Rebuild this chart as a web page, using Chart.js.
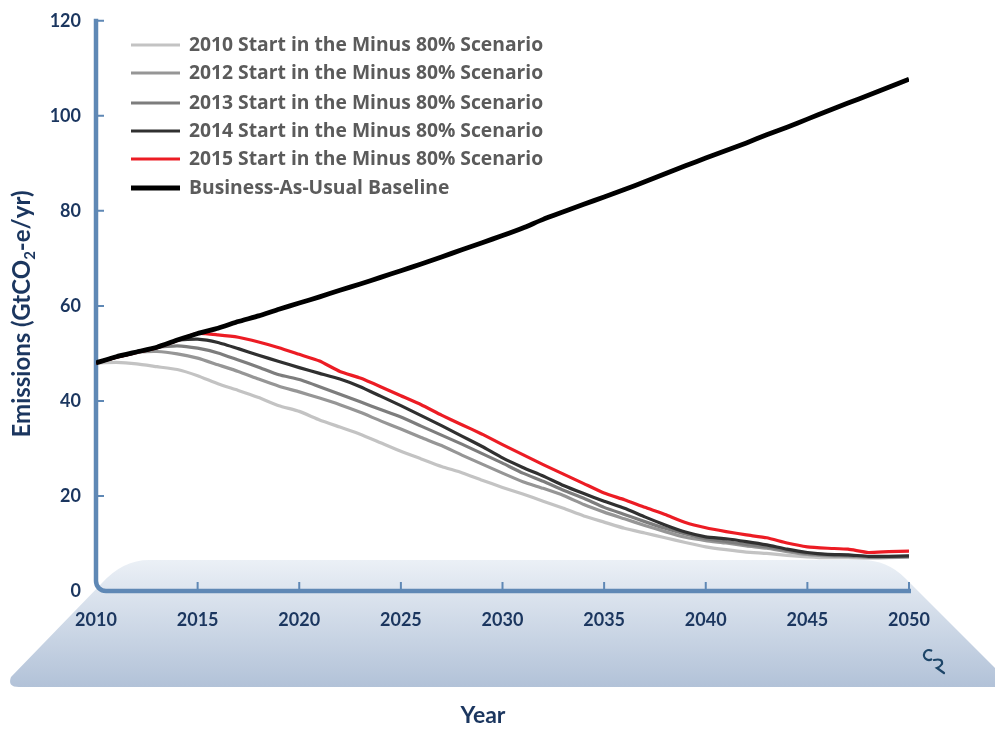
<!DOCTYPE html>
<html>
<head>
<meta charset="utf-8">
<title>Emissions scenarios</title>
<script src="https://cdn.jsdelivr.net/npm/chart.js@4.4.1/dist/chart.umd.min.js"></script>
<style>
  html, body { margin: 0; padding: 0; background: #ffffff; }
  canvas { display: block; }
</style>
</head>
<body>
<canvas id="emissionsChart" width="995" height="731"></canvas>
<script>
// Years on the x axis, one point per year
const years = [2010, 2011, 2012, 2013, 2014, 2015, 2016, 2017, 2018, 2019,
               2020, 2021, 2022, 2023, 2024, 2025, 2026, 2027, 2028, 2029,
               2030, 2031, 2032, 2033, 2034, 2035, 2036, 2037, 2038, 2039,
               2040, 2041, 2042, 2043, 2044, 2045, 2046, 2047, 2048, 2049, 2050];

// Emissions in GtCO2-e/yr
const start2010 = [48.0, 48.1, 47.8, 47.2, 46.6, 45.3, 43.6, 42.2, 40.7, 39.0,
                   37.8, 36.0, 34.5, 33.0, 31.2, 29.4, 27.8, 26.2, 24.9, 23.3,
                   21.8, 20.4, 18.9, 17.4, 15.8, 14.5, 13.2, 12.2, 11.2, 10.2,
                   9.3, 8.7, 8.2, 7.9, 7.5, 7.2, 7.0, 7.0, 6.9, 7.0, 7.1];
const start2012 = [48.0, 49.2, 50.3, 50.4, 49.9, 49.0, 47.6, 46.2, 44.6, 43.1,
                   41.9, 40.6, 39.2, 37.6, 35.8, 34.1, 32.3, 30.6, 28.6, 26.7,
                   24.8, 23.0, 21.6, 20.1, 18.2, 16.6, 15.2, 13.8, 12.5, 11.3,
                   10.6, 10.1, 9.5, 9.0, 8.3, 7.7, 7.4, 7.3, 7.1, 7.1, 7.2];
const start2013 = [48.0, 49.2, 50.2, 51.3, 51.6, 51.1, 50.1, 48.6, 47.1, 45.5,
                   44.5, 43.0, 41.4, 39.8, 38.2, 36.6, 34.7, 32.8, 30.9, 28.9,
                   26.9, 24.8, 23.1, 21.2, 19.5, 17.6, 16.1, 14.6, 13.2, 12.0,
                   11.0, 10.4, 9.8, 9.3, 8.6, 7.9, 7.6, 7.5, 7.2, 7.2, 7.3];
const start2014 = [48.0, 49.2, 50.2, 51.2, 52.8, 53.0, 52.3, 51.0, 49.6, 48.3,
                   47.0, 45.8, 44.6, 43.0, 41.0, 39.0, 36.9, 34.8, 32.6, 30.4,
                   28.0, 26.0, 24.2, 22.2, 20.5, 18.9, 17.4, 15.6, 13.9, 12.4,
                   11.4, 11.0, 10.4, 9.7, 8.8, 8.1, 7.7, 7.6, 7.3, 7.3, 7.4];
const start2015 = [48.0, 49.2, 50.2, 51.2, 52.7, 54.2, 53.9, 53.4, 52.4, 51.2,
                   49.8, 48.4, 46.2, 44.8, 43.0, 41.1, 39.2, 37.0, 35.0, 33.0,
                   30.8, 28.7, 26.6, 24.6, 22.6, 20.6, 19.2, 17.6, 16.1, 14.4,
                   13.3, 12.5, 11.8, 11.2, 10.1, 9.3, 9.0, 8.8, 8.1, 8.3, 8.4];
const baseline = [48.0, 49.3, 50.3, 51.3, 52.8, 54.2, 55.3, 56.7, 57.9, 59.3,
                  60.6, 61.9, 63.3, 64.6, 66.0, 67.4, 68.8, 70.3, 71.8, 73.3,
                  74.8, 76.4, 78.2, 79.8, 81.4, 82.9, 84.5, 86.1, 87.8, 89.5,
                  91.1, 92.7, 94.3, 96.0, 97.6, 99.3, 101.0, 102.7, 104.3, 106.0, 107.7];

// Axis ticks
const xTicks = [2010, 2015, 2020, 2025, 2030, 2035, 2040, 2045, 2050];
const yTicks = [0, 20, 40, 60, 80, 100, 120];

const NAVY = '#1b365f';
const AXIS_BLUE = '#5f88b5';
const FONT = 'Lato, "Open Sans", sans-serif';
const LEGEND_FONT = '"Open Sans", Lato, sans-serif';

function toPoints(values) {
    return values.map((v, i) => ({ x: years[i], y: v }));
}

function makeSeries(label, values, color, width, order) {
    return {
        label: label,
        data: toPoints(values),
        borderColor: color,
        backgroundColor: color,
        borderWidth: width,
        pointRadius: 0,
        tension: 0.15,
        order: order
    };
}

// Light blue base platform under the x axis
const platformPlugin = {
    id: 'platform',
    beforeDraw(chart) {
        const ctx = chart.ctx;
        const area = chart.chartArea;
        const top = area.bottom - 31;
        const bottom = area.bottom + 96;
        const right = chart.width;
        ctx.save();
        const grad = ctx.createLinearGradient(0, top, 0, bottom);
        grad.addColorStop(0, '#ebf0f6');
        grad.addColorStop(1, '#b2c2d8');
        ctx.fillStyle = grad;
        ctx.beginPath();
        ctx.moveTo(area.left + 53, top);
        ctx.lineTo(area.right - 47, top);
        ctx.quadraticCurveTo(area.right - 22, top, area.right - 4, top + 18);
        ctx.lineTo(right, top + 108);
        ctx.lineTo(right, bottom);
        ctx.lineTo(area.left - 77, bottom);
        ctx.quadraticCurveTo(area.left - 89, bottom, area.left - 85, bottom - 10);
        ctx.lineTo(area.left + 6, top + 23);
        ctx.quadraticCurveTo(area.left + 27, top, area.left + 53, top);
        ctx.closePath();
        ctx.fill();
        ctx.restore();
    }
};

// Axis frame with rounded corner and inward tick marks
const axisFramePlugin = {
    id: 'axisFrame',
    beforeDatasetsDraw(chart) {
        const ctx = chart.ctx;
        const xs = chart.scales.x;
        const ys = chart.scales.y;
        const left = xs.getPixelForValue(xTicks[0]);
        const right = xs.getPixelForValue(xTicks[xTicks.length - 1]);
        const bottom = ys.getPixelForValue(0);
        const top = ys.getPixelForValue(yTicks[yTicks.length - 1]);
        ctx.save();
        ctx.strokeStyle = AXIS_BLUE;
        ctx.lineWidth = 4.5;
        ctx.lineCap = 'butt';
        ctx.beginPath();
        ctx.moveTo(left, top - 2);
        ctx.lineTo(left, bottom - 10);
        ctx.arcTo(left, bottom, left + 10, bottom, 10);
        ctx.lineTo(right + 2, bottom);
        ctx.stroke();

        ctx.lineWidth = 2;
        ctx.beginPath();
        yTicks.slice(1).forEach(v => {
            const y = ys.getPixelForValue(v);
            ctx.moveTo(left, y);
            ctx.lineTo(left + 8, y);
        });
        xTicks.slice(1).forEach(v => {
            const x = xs.getPixelForValue(v);
            ctx.moveTo(x, bottom);
            ctx.lineTo(x, bottom - 9);
        });
        ctx.stroke();
        ctx.restore();
    }
};

// Legend, axis titles and the small mark in the corner
const overlayPlugin = {
    id: 'overlay',
    afterDraw(chart) {
        const ctx = chart.ctx;
        const datasets = chart.data.datasets;
        ctx.save();

        // legend
        const rows = [45, 73, 103, 131, 159, 188];
        ctx.font = 'bold 19.3px ' + LEGEND_FONT;
        ctx.textBaseline = 'middle';
        ctx.textAlign = 'left';
        datasets.forEach((ds, i) => {
            const y = rows[i];
            ctx.strokeStyle = ds.borderColor;
            ctx.lineWidth = ds.borderWidth;
            ctx.beginPath();
            ctx.moveTo(131, y);
            ctx.lineTo(180, y);
            ctx.stroke();
            ctx.fillStyle = '#5b5b5b';
            ctx.fillText(ds.label, 189, y + 1);
        });

        // y axis title with subscript
        ctx.fillStyle = NAVY;
        ctx.translate(22, 314);
        ctx.rotate(-Math.PI / 2);
        const bigFont = 'bold 24px ' + FONT;
        const subFont = 'bold 15px ' + FONT;
        const partA = 'Emissions (GtCO';
        const partB = '2';
        const partC = '-e/yr)';
        ctx.font = bigFont;
        const wA = ctx.measureText(partA).width;
        const wC = ctx.measureText(partC).width;
        ctx.font = subFont;
        const wB = ctx.measureText(partB).width;
        let x = -(wA + wB + wC) / 2;
        ctx.textAlign = 'left';
        ctx.textBaseline = 'alphabetic';
        ctx.font = bigFont;
        ctx.fillText(partA, x, 8);
        ctx.font = subFont;
        ctx.fillText(partB, x + wA, 13);
        ctx.font = bigFont;
        ctx.fillText(partC, x + wA + wB, 8);
        ctx.setTransform(1, 0, 0, 1, 0, 0);

        // x axis title
        ctx.font = 'bold 23px ' + FONT;
        ctx.textAlign = 'center';
        ctx.textBaseline = 'middle';
        ctx.fillText('Year', 483, 716);

        // corner mark
        ctx.strokeStyle = '#1d4568';
        ctx.lineWidth = 2.2;
        ctx.lineCap = 'round';
        ctx.beginPath();
        ctx.arc(929, 655, 5, -0.35 * Math.PI, 0.35 * Math.PI, true);
        ctx.stroke();
        ctx.beginPath();
        ctx.moveTo(934, 660);
        ctx.quadraticCurveTo(943, 658, 942, 664);
        ctx.quadraticCurveTo(940, 667, 937, 668);
        ctx.lineTo(944, 673);
        ctx.stroke();
        ctx.restore();
    }
};

const ctx = document.getElementById('emissionsChart').getContext('2d');
const emissionsChart = new Chart(ctx, {
    type: 'line',
    data: {
        datasets: [
            makeSeries('2010 Start in the Minus 80% Scenario', start2010, '#c3c3c3', 3.2, 5),
            makeSeries('2012 Start in the Minus 80% Scenario', start2012, '#969696', 3.2, 4),
            makeSeries('2013 Start in the Minus 80% Scenario', start2013, '#7d7d7d', 3.2, 3),
            makeSeries('2014 Start in the Minus 80% Scenario', start2014, '#303030', 3.2, 2),
            makeSeries('2015 Start in the Minus 80% Scenario', start2015, '#ec1c24', 3.2, 1),
            makeSeries('Business-As-Usual Baseline', baseline, '#000000', 4.8, 0)
        ]
    },
    options: {
        responsive: false,
        animation: false,
        devicePixelRatio: 1,
        layout: {
            padding: { left: 0, top: 15, right: 86, bottom: 0 }
        },
        scales: {
            x: {
                type: 'linear',
                min: 2010,
                max: 2050,
                afterBuildTicks: scale => {
                    scale.ticks = xTicks.map(v => ({ value: v }));
                },
                afterFit: scale => { scale.height = 140; },
                border: { display: false },
                grid: { display: false, drawTicks: false },
                ticks: {
                    padding: 18,
                    color: NAVY,
                    font: { family: FONT, size: 18, weight: 'bold' },
                    maxRotation: 0,
                    autoSkip: false,
                    callback: value => String(value)
                }
            },
            y: {
                type: 'linear',
                min: 0,
                max: 120,
                afterBuildTicks: scale => {
                    scale.ticks = yTicks.map(v => ({ value: v }));
                },
                afterFit: scale => { scale.width = 96; },
                border: { display: false },
                grid: { display: false, drawTicks: false },
                ticks: {
                    padding: 15,
                    color: NAVY,
                    // short line height keeps the top label from pushing the plot down
                    font: { family: FONT, size: 18, weight: 'bold', lineHeight: 0.64 },
                    callback: value => String(value)
                }
            }
        },
        plugins: {
            legend: { display: false },
            tooltip: { enabled: false }
        }
    },
    plugins: [platformPlugin, axisFramePlugin, overlayPlugin]
});
</script>
</body>
</html>
